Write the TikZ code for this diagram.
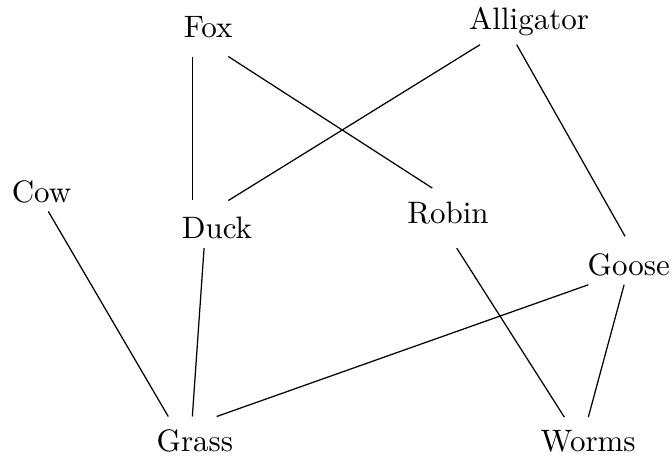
\documentclass[tikz,border=0pt]{standalone}
\usepackage{tikz}

\begin{document}
\begin{tikzpicture}[
      animal/.style={inner sep=3pt},
      eats/.style={black, line width=0.4pt}]

    \useasboundingbox (0,0) rectangle (7.62,5.18);

    % top row
    \node[animal] (fox) at (2.36,4.87) {Fox};
    \node[animal] (alligator) at (6.00,4.93) {Alligator};
    % middle row
    \node[animal] (cow) at (0.47,3.00) {Cow};
    \node[animal] (duck) at (2.46,2.60) {Duck};
    \node[animal] (robin) at (5.08,2.76) {Robin};
    \node[animal] (goose) at (7.13,2.18) {Goose};
    % bottom row
    \node[animal] (grass) at (2.21,0.18) {Grass};
    \node[animal] (worms) at (6.67,0.18) {Worms};

    % edges: from/shift -- to/shift
    \foreach \a/\ax/\ay/\b/\bx/\by in {
      fox/-0.179/-0.331/duck/-0.279/0.314,
      fox/0.229/-0.331/robin/-0.178/0.287,
      alligator/-0.557/-0.257/duck/0.129/0.306,
      alligator/-0.141/-0.257/goose/-0.042/0.319,
      cow/0.078/-0.218/grass/-0.302/0.277,
      duck/-0.146/-0.234/grass/-0.029/0.277,
      robin/0.099/-0.394/worms/-0.271/0.270,
      goose/-0.458/-0.229/grass/0.247/0.277,
      goose/-0.053/-0.229/worms/0.001/0.270}
      {\draw[eats] ([shift={(\ax,\ay)}]\a.center) -- ([shift={(\bx,\by)}]\b.center);}
  \end{tikzpicture}
\end{document}
